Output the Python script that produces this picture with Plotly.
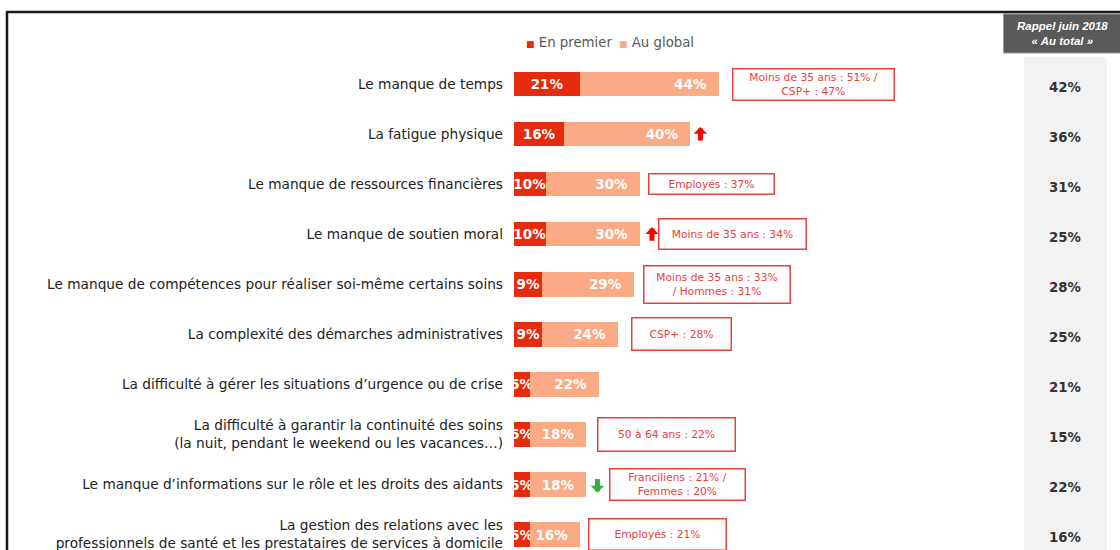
import plotly.graph_objects as go

# ---------------- data ----------------
categories = [
    "Le manque de temps",
    "La fatigue physique",
    "Le manque de ressources financières",
    "Le manque de soutien moral",
    "Le manque de compétences pour réaliser soi-même certains soins",
    "La complexité des démarches administratives",
    "La difficulté à gérer les situations d’urgence ou de crise",
    "La difficulté à garantir la continuité des soins<br>(la nuit, pendant le weekend ou les vacances…)",
    "Le manque d’informations sur le rôle et les droits des aidants",
    "La gestion des relations avec les<br>professionnels de santé et les prestataires de services à domicile",
]
en_premier = [21, 16, 10, 10, 9, 9, 5, 5, 5, 5]
au_global = [44, 40, 30, 30, 29, 24, 22, 18, 18, 16]
rappel_2018 = [42, 36, 31, 25, 28, 25, 21, 15, 22, 16]
notes = [
    "Moins de 35 ans : 51% /<br>CSP+ : 47%",
    None,
    "Employés : 37%",
    "Moins de 35 ans : 34%",
    "Moins de 35 ans : 33%<br>/ Hommes : 31%",
    "CSP+ : 28%",
    None,
    "50 à 64 ans : 22%",
    "Franciliens : 21% /<br>Femmes : 20%",
    "Employés : 21%",
]
trends = [None, "up", None, "up", None, None, None, None, "down", None]
series_names = ["En premier", "Au global"]

# ---------------- styles ----------------
FONT = "DejaVu Sans"
RED = "#e62b0e"
SALMON = "#fbaa86"
NOTE_RED = "#e8403c"
W, H = 1120, 550
# note box layout: (gap to bar end px, box width px, box height px)
note_box = [(13, 163, 33), None, (8, 127, 22), (18, 149, 32), (9, 148, 39),
            (13, 101, 34), None, (11, 139, 35), (23, 137, 33), (8, 139, 33)]
arrow_shift = [None, 10, None, 12, None, None, None, None, 11, None]

ypos = list(range(len(categories)))
totals = [p + g for p, g in zip(en_premier, au_global)]

fig = go.Figure()
fig.add_trace(go.Bar(
    name=series_names[0], y=ypos, x=en_premier, orientation="h",
    marker=dict(color=RED, line=dict(width=0)), width=0.49,
    text=[f"{v}%" for v in en_premier], textposition="inside",
    insidetextanchor="middle", textangle=0, constraintext="none",
    textfont=dict(family=FONT, size=13.5, color="white", weight="bold"),
    showlegend=False,
))
fig.add_trace(go.Bar(
    name=series_names[1], y=ypos, x=au_global, orientation="h",
    marker=dict(color=SALMON, line=dict(width=0)), width=0.49,
    text=[f"{v}%  " for v in au_global], textposition="inside",
    insidetextanchor="end", textangle=0, constraintext="none",
    textfont=dict(family=FONT, size=13.5, color="white", weight="bold"),
    showlegend=False,
))

annotations = []
# legend (small squares + labels)
for name, col, px in zip(series_names, [RED, "#f7ad8c"], [524, 617]):
    annotations.append(dict(
        x=px / W, y=1 - 42 / H, xref="paper", yref="paper", xanchor="left", yanchor="middle",
        showarrow=False,
        text=f"<span style='color:{col};font-size:9px'>■</span> {name}",
        font=dict(family=FONT, size=13.3, color="#595959"),
    ))
# note boxes
for i, (note, box) in enumerate(zip(notes, note_box)):
    if note is None:
        continue
    gap, bw, bh = box
    annotations.append(dict(
        x=totals[i], y=ypos[i], xref="x", yref="y", xanchor="left", yanchor="middle",
        xshift=gap, text=note, showarrow=False, align="center",
        width=bw - 5, height=bh - 5, bordercolor=NOTE_RED, borderwidth=1.5, borderpad=1,
        bgcolor="white", font=dict(family=FONT, size=10.7, color=NOTE_RED),
    ))
# trend arrows
for i, t in enumerate(trends):
    if t is None:
        continue
    up = t == "up"
    annotations.append(dict(
        x=totals[i], y=ypos[i], xref="x", yref="y", xshift=arrow_shift[i],
        yshift=7 if up else -8, text="", showarrow=True,
        arrowhead=1, arrowwidth=5, arrowsize=0.45,
        arrowcolor="#ff0000" if up else "#3aa84a",
        ax=0, ay=15 if up else -15,
    ))
# right column values
for i, v in enumerate(rappel_2018):
    annotations.append(dict(
        x=1065 / W, y=ypos[i], xref="paper", yref="y", yshift=-3,
        text=f"<b>{v}%</b>", showarrow=False, xanchor="center", yanchor="middle",
        font=dict(family=FONT, size=13.3, color="#333333"),
    ))
# header
annotations.append(dict(
    x=1062 / W, y=1 - 33.5 / H, xref="paper", yref="paper", showarrow=False,
    xanchor="center", yanchor="middle",
    text="<b><i>Rappel juin 2018<br>« Au total »</i></b>",
    font=dict(family="Liberation Sans", size=11.5, color="white"),
))

shapes = [
    # right gray column
    dict(type="rect", xref="paper", yref="paper", x0=1024 / W, x1=1107 / W,
         y0=-0.01, y1=1 - 57 / H, fillcolor="#f2f2f2", line=dict(width=0), layer="below"),
    # header box
    dict(type="rect", xref="paper", yref="paper", x0=1003.5 / W, x1=1.01,
         y0=1 - 53 / H, y1=1 - 14 / H, fillcolor="#595959",
         line=dict(color="#9a9a9a", width=1)),
    # frame
    dict(type="path", xref="paper", yref="paper",
         path=f"M {7 / W},-0.01 L {7 / W},{1 - 12 / H} L 1.01,{1 - 12 / H}",
         line=dict(color="#1a1a1a", width=2.5)),
]

fig.update_layout(
    width=W, height=H, barmode="stack",
    margin=dict(l=0, r=0, t=0, b=0),
    paper_bgcolor="white", plot_bgcolor="white",
    font=dict(family=FONT, size=13.7, color="#222222"),
    showlegend=False,
    xaxis=dict(domain=[514 / W, 1], range=[0, (W - 514) / 3.15], visible=False,
               fixedrange=True),
    yaxis=dict(range=[9.308, -1.679], tickvals=ypos, ticktext=categories,
               showgrid=False, zeroline=False, showline=False, ticks="",
               ticklabelstandoff=10, ticklabeloverflow="allow",
               tickfont=dict(family=FONT, size=13.7, color="#222222"),
               fixedrange=True),
    annotations=annotations, shapes=shapes,
)

fig.write_html("out.html", config={"displayModeBar": False},
               post_script="document.body.style.margin='0px';")
